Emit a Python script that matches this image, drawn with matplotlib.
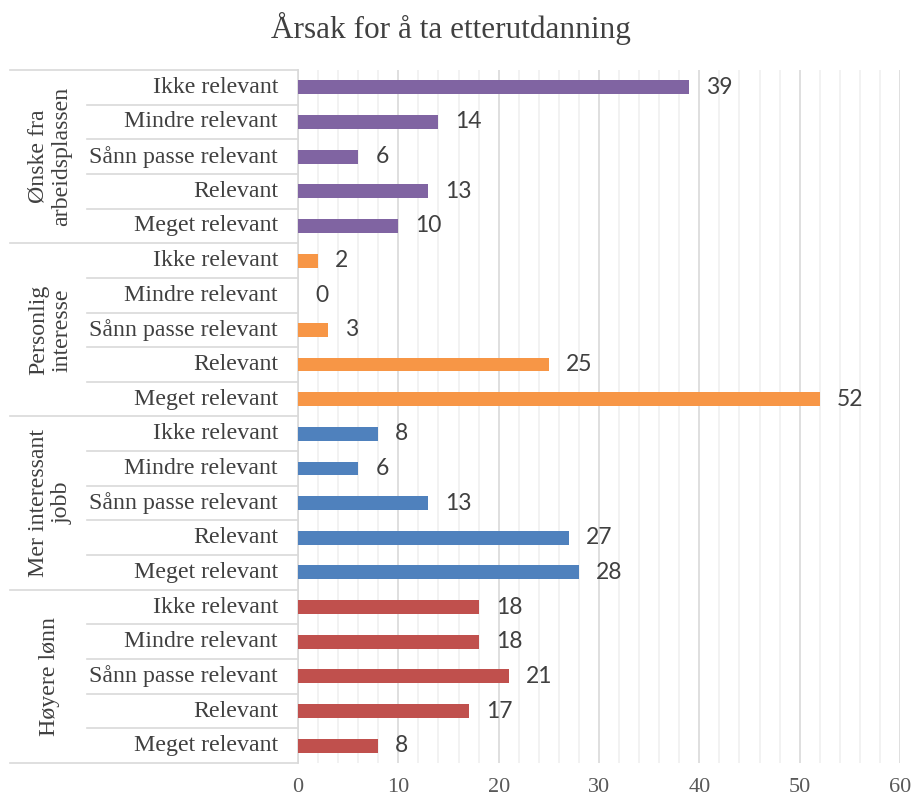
import matplotlib.pyplot as plt
from matplotlib.ticker import MultipleLocator
import matplotlib.transforms as mtransforms

# groups listed bottom to top, categories top to bottom within each group
groups = ["Høyere lønn", "Mer interessant\njobb", "Personlig\ninteresse", "Ønske fra\narbeidsplassen"]
categories = ["Ikke relevant", "Mindre relevant", "Sånn passe relevant", "Relevant", "Meget relevant"]
hoyere_lonn = [18, 18, 21, 17, 8]
mer_interessant = [8, 6, 13, 27, 28]
personlig = [2, 0, 3, 25, 52]
onske = [39, 14, 6, 13, 10]
colors = ["#C0504D", "#4F81BD", "#F79646", "#8064A2"]

series = [hoyere_lonn, mer_interessant, personlig, onske]

serif = "Liberation Serif"
sans = "Lato"

fig = plt.figure(figsize=(9.15, 8.05), dpi=100)
W, H = 915, 805
ax = fig.add_axes([298 / W, 1 - 763 / H, 602 / W, 693 / H])

n = len(categories)
trans = mtransforms.blended_transform_factory(ax.transAxes, ax.transData)
for g, (name, vals, col) in enumerate(zip(groups, series, colors)):
    ys = [g * n + (n - 1 - i) for i in range(n)]
    ax.barh(ys, vals, height=0.4, color=col, zorder=3)
    for y, v, cat in zip(ys, vals, categories):
        ax.text(v + 1.7, y, str(v), va="center", ha="left", fontsize=16.5,
                family=sans, color="#404040")
        ax.text(-20 / 602, y, cat, transform=trans, va="center", ha="right",
                fontsize=17.2, family=serif, color="#404040")
        # separator between rows inside group
        if y != g * n:
            ax.plot([-211 / 602, 0], [y - 0.5, y - 0.5], transform=trans,
                    color="#D9D9D9", lw=1.2, clip_on=False)
    # group separator
    ax.plot([-288 / 602, 0], [g * n - 0.5, g * n - 0.5], transform=trans,
            color="#D9D9D9", lw=1.2, clip_on=False)
    ax.text(-248 / 602, g * n + (n - 1) / 2, name, transform=trans,
            rotation=90, ha="center", va="center", fontsize=17.2,
            family=serif, color="#404040", multialignment="center",
            linespacing=1.15)
ax.plot([-288 / 602, 0], [len(groups) * n - 0.5] * 2, transform=trans,
        color="#D9D9D9", lw=1.2, clip_on=False)

ax.set_xlim(0, 60)
ax.set_ylim(-0.5, len(groups) * n - 0.5)
ax.xaxis.set_major_locator(MultipleLocator(10))
ax.xaxis.set_minor_locator(MultipleLocator(2))
ax.grid(axis="x", which="major", color="#D9D9D9", lw=1.2, zorder=0)
ax.grid(axis="x", which="minor", color="#F0F0F0", lw=1.2, zorder=0)
ax.set_yticks([])
ax.tick_params(axis="x", which="both", length=0, pad=11, labelsize=16,
               labelcolor="#595959")
for lab in ax.get_xticklabels():
    lab.set_family(serif)
for s in ["top", "right", "bottom"]:
    ax.spines[s].set_visible(False)
ax.spines["left"].set_color("#D9D9D9")
ax.spines["left"].set_linewidth(1.2)

fig.text(451 / W, 1 - 28 / H, "Årsak for å ta etterutdanning", ha="center",
         va="center", fontsize=22.5, family=serif, color="#404040")

fig.savefig("out.png", dpi=100)
